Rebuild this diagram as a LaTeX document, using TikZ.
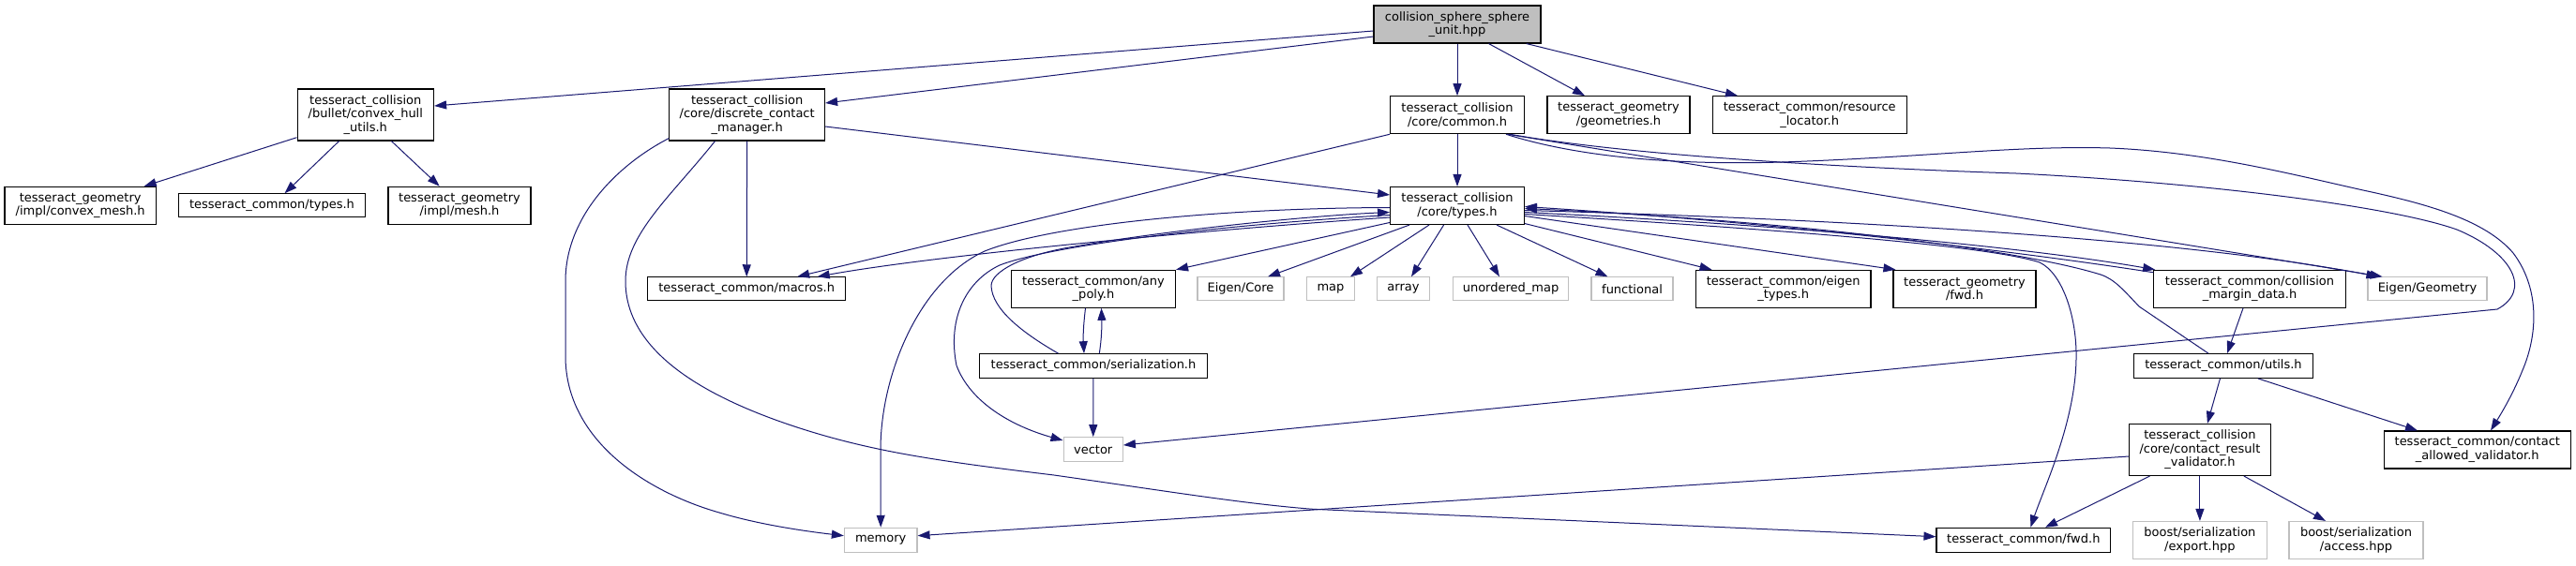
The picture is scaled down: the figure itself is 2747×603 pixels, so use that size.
\documentclass[tikz,border=0pt]{standalone}
\usepackage{fontspec}
\setmainfont{DejaVu Sans}
\usetikzlibrary{arrows.meta}
\definecolor{edgecol}{HTML}{191970}
\definecolor{extgrey}{HTML}{BFBFBF}
\begin{document}
\begin{tikzpicture}[x=1pt,y=-1pt,
  box/.style={rectangle, draw=black, line width=1.1pt, fill=white, inner sep=0pt, align=center, font=\fontsize{13}{14.5}\selectfont},
  ext/.style={box, draw=extgrey},
  rootbox/.style={box, fill=extgrey},
  dep/.style={draw=edgecol, line width=1pt, -{Triangle[length=13pt,width=9pt]}}
]
\fill[white] (0,0) rectangle (2747,603);
\useasboundingbox (0,0) rectangle (2747,603);

% nodes
\node[rootbox, minimum width=178pt, minimum height=40pt] (root) at (1554,26) {collision\_sphere\_sphere\\\_unit.hpp};
\node[box, minimum width=145.5pt, minimum height=55pt] (chull) at (389.8,122.5) {tesseract\_collision\\/bullet/convex\_hull\\\_utils.h};
\node[box, minimum width=165.7pt, minimum height=55pt] (dcm) at (796.7,122.5) {tesseract\_collision\\/core/discrete\_contact\\\_manager.h};
\node[box, minimum width=142.8pt, minimum height=40pt] (common) at (1554,122.7) {tesseract\_collision\\/core/common.h};
\node[box, minimum width=152pt, minimum height=40pt] (geoms) at (1726,122.7) {tesseract\_geometry\\/geometries.h};
\node[box, minimum width=206.7pt, minimum height=40pt] (resloc) at (1929.7,122.7) {tesseract\_common/resource\\\_locator.h};
\node[box, minimum width=161.5pt, minimum height=40pt] (cmesh) at (85.7,219.3) {tesseract\_geometry\\/impl/convex\_mesh.h};
\node[box, minimum width=198.7pt, minimum height=25pt] (ctypes) at (290,219.3) {tesseract\_common/types.h};
\node[box, minimum width=152pt, minimum height=40pt] (mesh) at (490,219.3) {tesseract\_geometry\\/impl/mesh.h};
\node[box, minimum width=142.8pt, minimum height=40pt] (types) at (1554,219.5) {tesseract\_collision\\/core/types.h};
\node[box, minimum width=211pt, minimum height=25pt] (macros) at (796.2,308.3) {tesseract\_common/macros.h};
\node[box, minimum width=175pt, minimum height=40pt] (anypoly) at (1166,308.3) {tesseract\_common/any\\\_poly.h};
\node[ext, minimum width=92pt, minimum height=25pt] (ecore) at (1323,308.3) {Eigen/Core};
\node[ext, minimum width=51.3pt, minimum height=25pt] (map) at (1419,308.3) {map};
\node[ext, minimum width=56pt, minimum height=25pt] (array) at (1496.5,308.3) {array};
\node[ext, minimum width=123.5pt, minimum height=25pt] (umap) at (1611,308.3) {unordered\_map};
\node[ext, minimum width=87pt, minimum height=25pt] (func) at (1740.5,308.3) {functional};
\node[box, minimum width=186.5pt, minimum height=40pt] (etypes) at (1901.7,308.3) {tesseract\_common/eigen\\\_types.h};
\node[box, minimum width=152pt, minimum height=40pt] (gfwd) at (2095,308.3) {tesseract\_geometry\\/fwd.h};
\node[box, minimum width=204.5pt, minimum height=40pt] (cmd) at (2399,308.3) {tesseract\_common/collision\\\_margin\_data.h};
\node[ext, minimum width=127pt, minimum height=25pt] (egeo) at (2588.5,308.3) {Eigen/Geometry};
\node[box, minimum width=242.3pt, minimum height=25.6pt] (serial) at (1166,390.5) {tesseract\_common/serialization.h};
\node[box, minimum width=191pt, minimum height=25.6pt] (utils) at (2371,390.5) {tesseract\_common/utils.h};
\node[ext, minimum width=63.3pt, minimum height=26pt] (vector) at (1165.7,479.7) {vector};
\node[box, minimum width=150.3pt, minimum height=55pt] (crv) at (2345.9,480) {tesseract\_collision\\/core/contact\_result\\\_validator.h};
\node[box, minimum width=198.5pt, minimum height=40pt] (cav) at (2641.8,480) {tesseract\_common/contact\\\_allowed\_validator.h};
\node[ext, minimum width=77.6pt, minimum height=26pt] (memory) at (939.2,576.3) {memory};
\node[box, minimum width=185.6pt, minimum height=26pt] (cfwd) at (2157.8,576.3) {tesseract\_common/fwd.h};
\node[ext, minimum width=142.3pt, minimum height=40pt] (bexport) at (2345.9,576.5) {boost/serialization\\/export.hpp};
\node[ext, minimum width=143pt, minimum height=40pt] (baccess) at (2512.5,576.5) {boost/serialization\\/access.hpp};

% root
\draw[dep] ([yshift=-7pt]root.west) -- ([yshift=9.5pt]chull.east);
\draw[dep] ([yshift=-13pt]root.west) -- ([yshift=12.5pt]dcm.east);
\draw[dep] (root) -- (common);
\draw[dep] ([xshift=33.5pt]root.south) -- ([xshift=-36pt]geoms.north);
\draw[dep] ([xshift=73.7pt]root.south) -- ([xshift=-76.7pt]resloc.north);
% convex hull utils
\draw[dep] ([yshift=-24.2pt]chull.west) -- ([xshift=68pt]cmesh.north);
\draw[dep] ([xshift=-28.2pt]chull.south) -- ([xshift=13.6pt]ctypes.north);
\draw[dep] ([xshift=27.6pt]chull.south) -- ([xshift=-21.3pt]mesh.north);
% discrete contact manager
\draw[dep] (dcm) -- (macros);
\draw[dep] ([yshift=-12.5pt]dcm.east) -- ([yshift=11.5pt]types.west);
\draw[dep] ([yshift=3pt]dcm.south west) .. controls (660,175) and (603,230) .. (603,300) -- (603,380) .. controls (603,470) and (690,525) .. (767,547) .. controls (810,560) and (860,567) .. ([yshift=4.6pt]memory.west);
\draw[dep] ([xshift=-34.2pt]dcm.south) .. controls (715,210) and (667,250) .. (667,300) .. controls (667,370) and (740,420) .. (850,456) .. controls (930,482) and (1000,492) .. (1124,507) .. controls (1250,525) and (1330,538) .. (1400,543.3) -- ([yshift=3.6pt]cfwd.west);
% common.h
\draw[dep] (common) -- (types);
\draw[dep] (common.south west) -- ([xshift=54pt]macros.north);
\draw[dep] ([xshift=53.6pt]common.south) -- ([xshift=-48pt]egeo.north);
\draw[dep] ([xshift=52pt]common.south) .. controls (1690,170) and (1800,176) .. (1900,173) .. controls (2050,168) and (2150,155) .. (2250,158) .. controls (2350,162) and (2440,185) .. (2520,203) .. controls (2590,218) and (2650,235) .. (2680,270) .. controls (2710,310) and (2705,360) .. (2690,395) .. controls (2680,420) and (2668,440) .. ([xshift=14.2pt]cav.north);
\draw[dep] ([xshift=56pt]common.south) .. controls (1750,168) and (2000,180) .. (2150,185) .. controls (2350,195) and (2550,220) .. (2620,245) .. controls (2680,270) and (2700,310) .. (2663,330) -- ([yshift=4.7pt]vector.east);
% types.h
\draw[dep] ([yshift=-12.5pt]types.west) .. controls (1300,244) and (1000,272) .. ([xshift=75.5pt]macros.north);
\draw[dep] ([yshift=2.6pt]types.south west) -- (anypoly.north east);
\draw[dep] ([xshift=-51pt]types.south) -- ([xshift=29pt]ecore.north);
\draw[dep] ([xshift=-30pt]types.south) -- ([xshift=21pt]map.north);
\draw[dep] ([xshift=-14.4pt]types.south) -- ([xshift=8.5pt]array.north);
\draw[dep] ([xshift=11pt]types.south) -- ([xshift=-12pt]umap.north);
\draw[dep] ([xshift=42pt]types.south) -- ([xshift=-26pt]func.north);
\draw[dep] ([yshift=1.5pt]types.south east) -- ([xshift=-76.2pt]etypes.north);
\draw[dep] ([yshift=-11pt]types.east) -- ([xshift=3pt]gfwd.north west);
\draw[dep] ([yshift=-7pt]types.east) .. controls (1900,240) and (2150,262) .. ([xshift=2pt]cmd.north west);
\draw[dep] ([yshift=-5pt]types.east) .. controls (1900,232) and (2300,250) .. ([xshift=-52pt]egeo.north);
\draw[dep] ([yshift=-9pt]types.east) .. controls (1900,245) and (2120,262) .. (2175,280) .. controls (2200,292) and (2215,340) .. (2214,383) .. controls (2213,450) and (2180,520) .. ([xshift=7.5pt]cfwd.north);
\draw[dep] ([yshift=-2pt]types.west) .. controls (1300,222) and (1120,240) .. (1050,268) .. controls (980,300) and (939,400) .. (939,480) -- (memory.north);
\draw[dep] ([yshift=-10pt]types.west) .. controls (1300,240) and (1120,262) .. (1066,283) .. controls (1030,300) and (1010,340) .. (1020,390) .. controls (1035,430) and (1080,455) .. ([yshift=9.7pt]vector.west);
% back edges into types.h
\draw[dep] ([xshift=-37.5pt]serial.north) .. controls (1090,355) and (1058,330) .. (1057,305) .. controls (1057,290) and (1090,272) .. (1146,263) .. controls (1250,245) and (1400,230) .. ([yshift=-7pt]types.west);
\draw[dep] ([xshift=-16pt]utils.north) -- (2281,327) .. controls (2265,310) and (2255,298) .. (2240,293) .. controls (2150,265) and (1900,235) .. ([yshift=-3pt]types.east);
\draw[dep] ([yshift=-3pt]cmd.north west) .. controls (2150,268) and (1900,238) .. ([yshift=-1pt]types.east);
% any_poly / serialization
\draw[dep] ([xshift=-8.5pt]anypoly.south) .. controls (1155,350) and (1155,360) .. ([xshift=-10pt]serial.north);
\draw[dep] ([xshift=6.3pt]serial.north) .. controls (1175,360) and (1175,345) .. ([xshift=8.5pt]anypoly.south);
\draw[dep] (serial) -- (vector);
% lower right
\draw[dep] ([xshift=-7pt]cmd.south) -- ([xshift=4pt]utils.north);
\draw[dep] ([xshift=-3.5pt]utils.south) -- ([xshift=8pt]crv.north);
\draw[dep] ([xshift=36.7pt]utils.south) -- ([xshift=-63.8pt]cav.north);
\draw[dep] ([xshift=-53.4pt]crv.south) -- ([xshift=23.2pt]cfwd.north);
\draw[dep] (crv) -- (bexport);
\draw[dep] ([xshift=47pt]crv.south) -- ([xshift=-32.5pt]baccess.north);
\draw[dep] ([yshift=-7pt]crv.west) -- ([yshift=4.6pt]memory.east);
\end{tikzpicture}
\end{document}
